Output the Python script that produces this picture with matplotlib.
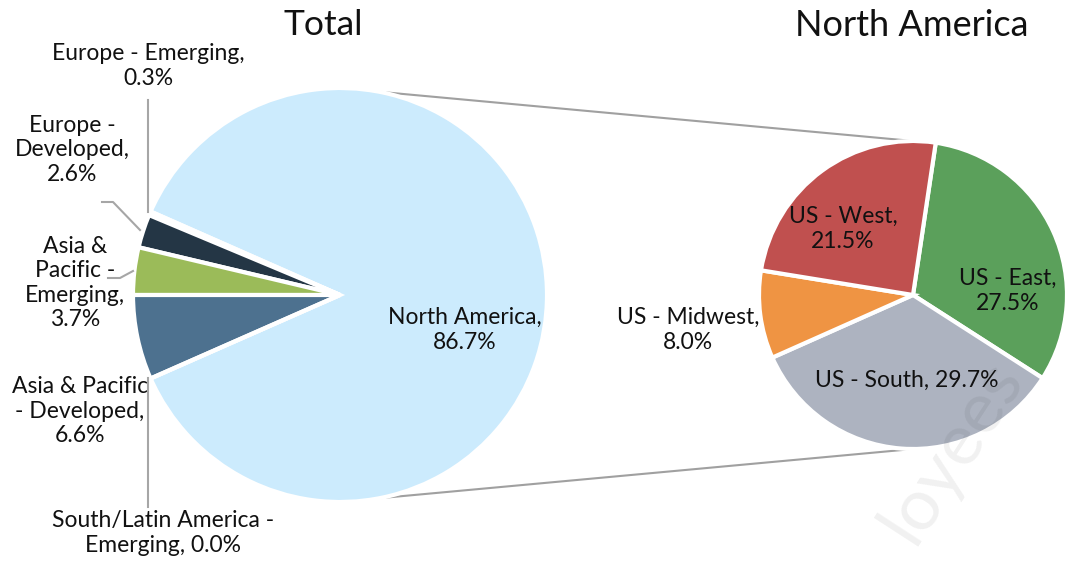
import matplotlib.pyplot as plt
import numpy as np

plt.rcParams['font.family'] = ['Lato', 'DejaVu Sans']

# left pie: total split by region
total_labels = ['North America', 'Europe - Emerging', 'Europe - Developed',
                'Asia & Pacific - Emerging', 'Asia & Pacific - Developed',
                'South/Latin America - Emerging']
total_values = [86.7, 0.3, 2.6, 3.7, 6.6, 0.0]
total_colors = ['#CCEBFD', '#A6A6A6', '#243645', '#9BBB59', '#4D718F', '#7F7F7F']

# right pie: North America split
na_labels = ['US - East', 'US - South', 'US - Midwest', 'US - West']
na_values = [27.5, 29.7, 8.0, 21.5]
na_colors = ['#5BA05B', '#ADB3C0', '#EF9443', '#C0504F']

W, H = 1067, 562
fig = plt.figure(figsize=(W / 100, H / 100), dpi=100)
ax = fig.add_axes([0, 0, 1, 1])

c1, r1 = (340, H - 295), 207
c2, r2 = (913, H - 295), 154

# North America slice centred on the right-hand side
start1 = -total_values[0] / sum(total_values) * 360 / 2
ax.pie(total_values, colors=total_colors, center=c1, radius=r1,
       startangle=start1, counterclock=True,
       wedgeprops=dict(edgecolor='white', linewidth=3))
ax.pie(na_values, colors=na_colors, center=c2, radius=r2,
       startangle=81.5, counterclock=False,
       wedgeprops=dict(edgecolor='white', linewidth=3))

# connector lines between the two pies
for a in (79, -79):
    x0 = c1[0] + r1 * np.cos(np.radians(a))
    y0 = c1[1] + r1 * np.sin(np.radians(a))
    y1 = c2[1] + r2 * np.sign(a)
    ax.plot([x0, c2[0]], [y0, y1], color='#A0A0A0', lw=1.5, zorder=0)


def txt(x, y, s, size=16.5, **kw):
    ax.text(x, H - y, s, fontsize=size, ha='center', va='center',
            color='#111111', linespacing=1.2, **kw)


def leader(xs, ys):
    ax.plot(xs, [H - y for y in ys], color='#A6A6A6', lw=1.5, zorder=3)


txt(323, 25, 'Total', size=25.5)
txt(912, 25, 'North America', size=26)

txt(148, 66, 'Europe - Emerging,\n0.3%')
txt(72, 150, 'Europe -\nDeveloped,\n2.6%')
txt(75, 283, 'Asia &\nPacific -\nEmerging,\n3.7%')
txt(80, 411, 'Asia & Pacific\n- Developed,\n6.6%')
txt(163, 533, 'South/Latin America -\nEmerging, 0.0%')
txt(465, 330, 'North America,\n86.7%')

txt(843, 229, 'US - West,\n21.5%')
txt(1008, 291, 'US - East,\n27.5%')
txt(688, 330, 'US - Midwest,\n8.0%')
txt(907, 380, 'US - South, 29.7%')

leader([148, 148], [100, 212])
leader([102, 113, 140], [202, 202, 230])
leader([108, 120, 133], [278, 278, 271])
leader([148, 148], [378, 507])

# faint watermark
ax.text(914, H - 546, 'loyees', fontsize=52, rotation=57,
        rotation_mode='anchor', ha='left', va='baseline',
        color='#000000', alpha=0.06, zorder=10)

ax.set_xlim(0, W)
ax.set_ylim(0, H)
ax.set_aspect('auto')
ax.axis('off')

fig.savefig('out.png', dpi=100)
